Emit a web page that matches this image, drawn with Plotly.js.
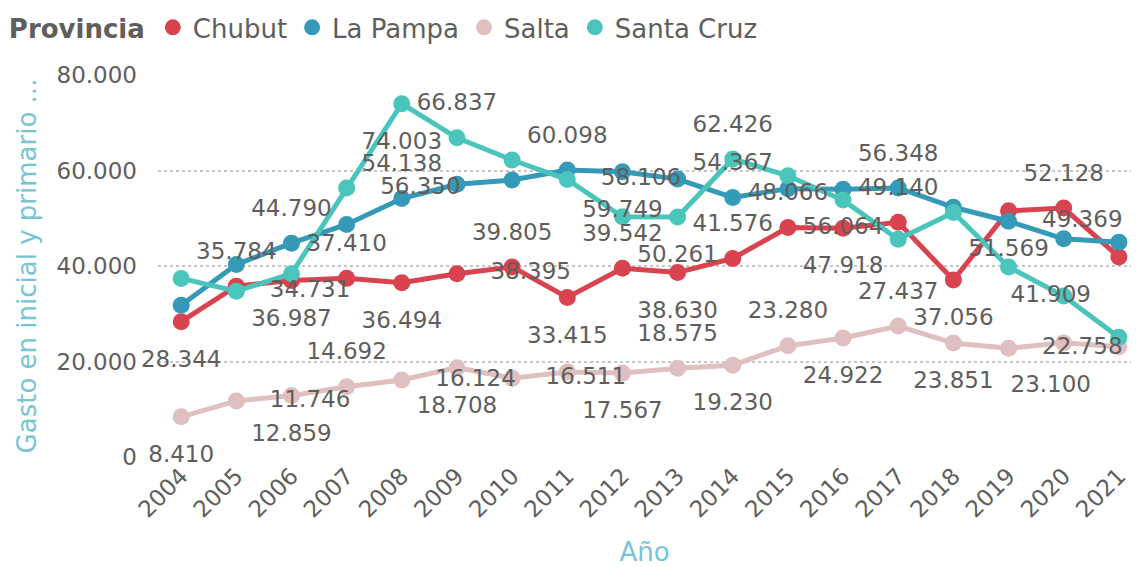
<!DOCTYPE html>
<html>
<head>
<meta charset="utf-8">
<script src="https://cdn.plot.ly/plotly-3.0.1.min.js"></script>
<style>html,body{margin:0;padding:0;background:#fff;}#chart{width:1137px;height:567px;}</style>
</head>
<body>
<div id="chart"></div>
<script>
// ---- data ----
const years = ['2004','2005','2006','2007','2008','2009','2010','2011','2012','2013','2014','2015','2016','2017','2018','2019','2020','2021'];
const chubut    = [28344, 35784, 36987, 37410, 36494, 38395, 39805, 33415, 39542, 38630, 41576, 48066, 47918, 49140, 37056, 51569, 52128, 41909];
const laPampa   = [31800, 40300, 44790, 48700, 54138, 57100, 58000, 60098, 59749, 58200, 54367, 56200, 56064, 56348, 52300, 49369, 45700, 45000];
const salta     = [8410, 11746, 12859, 14692, 16124, 18708, 16511, 17800, 17567, 18575, 19230, 23280, 24922, 27437, 23851, 22758, 23900, 23100];
const santaCruz = [37400, 34731, 38400, 56350, 74003, 66837, 62200, 58106, 50300, 50261, 62426, 58900, 53800, 45600, 51200, 39800, 33700, 25100];
const seriesNames = ['Chubut', 'La Pampa', 'Salta', 'Santa Cruz'];

// ---- label placement (style) ----
const T = 'top', B = 'bottom', R = 'right', L = 'bottomleft', N = null;
const chubutLbl    = [B,T,B,T,B,R,T,B,T,B,T,T,B,T,B,B,T,L];
const laPampaLbl   = [N,N,T,N,T,N,N,T,B,N,T,N,B,T,N,R,N,N];
const saltaLbl     = [B,R,B,T,R,B,R,N,B,T,B,T,B,T,B,R,N,L];
const santaCruzLbl = [N,R,N,R,B,T,N,R,N,B,T,N,N,N,N,N,N,N];

const colors = ['#D9434F', '#3599B8', '#DFBFBF', '#4AC5BB'];
const posMap  = {top: 'top center', bottom: 'bottom center', right: 'middle right', bottomleft: 'bottom left'};
const sizeMap = {top: 33, bottom: 43, right: 52, bottomleft: 43};
const textColor = '#605E5C';
const FONT = 'DejaVu Sans, Verdana, sans-serif';

const allVals = [chubut, laPampa, salta, santaCruz];
const allLbls = [chubutLbl, laPampaLbl, saltaLbl, santaCruzLbl];

const traces = [];
allVals.forEach((vals, i) => {
  traces.push({
    type: 'scatter', mode: 'lines+markers', x: years, y: vals, name: seriesNames[i],
    line: {color: colors[i], width: 5}, marker: {color: colors[i], size: 17},
    showlegend: false, cliponaxis: false, hoverinfo: 'x+y+name'
  });
});
allVals.forEach((vals, i) => {
  const lbl = allLbls[i];
  traces.push({
    type: 'scatter', mode: 'markers+text', x: years, y: vals, name: seriesNames[i] + ' labels',
    marker: {size: lbl.map(p => p ? sizeMap[p] : 10), opacity: 0, color: colors[i]},
    textposition: lbl.map(p => p ? posMap[p] : 'top center'),
    texttemplate: lbl.map(p => p ? '%{y:,.0f}' : ''),
    textfont: {family: FONT, size: 23, color: textColor},
    showlegend: false, cliponaxis: false, hoverinfo: 'skip'
  });
});
// legend-only entries (circle symbols)
seriesNames.forEach((n, i) => {
  traces.push({
    type: 'scatter', mode: 'markers', x: [null], y: [null], name: n,
    marker: {color: colors[i], size: 20}, showlegend: true, hoverinfo: 'skip'
  });
});

const layout = {
  width: 1137, height: 567,
  margin: {l: 158, r: 6, t: 75, b: 110},
  paper_bgcolor: '#ffffff', plot_bgcolor: '#ffffff',
  separators: ',.',
  font: {family: FONT, color: textColor},
  showlegend: true,
  legend: {
    orientation: 'h', xref: 'container', yref: 'container', x: 0.006, y: 0.993,
    xanchor: 'left', yanchor: 'top',
    title: {text: '<b>Provincia</b>', font: {family: FONT, size: 26, color: textColor}},
    font: {family: FONT, size: 26, color: textColor},
    itemwidth: 30, tracegroupgap: 0
  },
  xaxis: {
    type: 'category', range: [-0.42, 17.22],
    tickangle: -45, tickfont: {family: FONT, size: 23, color: textColor},
    showgrid: false, zeroline: false, showline: false, ticks: '',
    title: {text: 'Año', font: {family: FONT, size: 26, color: '#77C4D4'}, standoff: 25}
  },
  yaxis: {
    range: [0, 80000], dtick: 20000, tickformat: ',d',
    tickfont: {family: FONT, size: 23, color: textColor},
    showgrid: true, gridcolor: '#C8C6C4', gridwidth: 1.5, griddash: 'dot',
    zeroline: false, showline: false, ticks: '', ticklabelstandoff: 20,
    title: {text: 'Gasto en inicial y primario ...', font: {family: FONT, size: 26, color: '#77C4D4'}, standoff: 12}
  }
};

Plotly.newPlot('chart', traces, layout, {displayModeBar: false, responsive: false});
</script>
</body>
</html>
